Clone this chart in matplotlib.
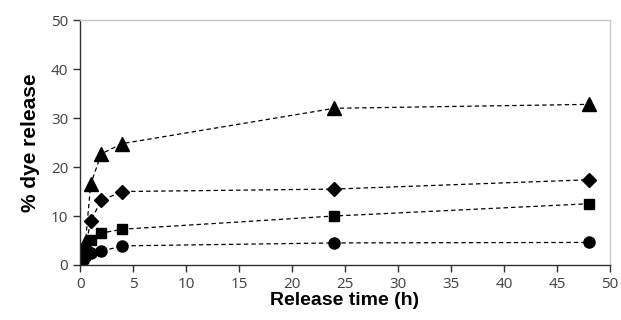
import matplotlib
matplotlib.use("Agg")
import matplotlib.pyplot as plt

# release time points (h)
time_h = [0.25, 0.5, 1, 2, 4, 24, 48]

# % dye release for each formulation
triangle = [2.5, 4.5, 16.5, 22.7, 24.8, 32.0, 32.8]
diamond = [2.0, 3.5, 9.0, 13.2, 15.0, 15.5, 17.4]
square = [1.5, 2.5, 5.0, 6.5, 7.3, 10.0, 12.5]
circle = [1.0, 1.8, 2.5, 2.8, 3.9, 4.5, 4.6]

x_ticks = list(range(0, 51, 5))
y_ticks = list(range(0, 51, 10))

fig = plt.figure(figsize=(6.21, 3.2), dpi=100)
ax = fig.add_axes([0.129, 0.172, 0.853, 0.765])

series = [(triangle, '^', 10), (diamond, 'D', 7.5), (square, 's', 7.5), (circle, 'o', 8)]
for vals, mk, ms in series:
    ax.plot(time_h, vals, linestyle=(0, (3.5, 2.5)), color='black', linewidth=0.9,
            marker=mk, markersize=ms, markerfacecolor='black', markeredgecolor='black')

ax.set_xlim(0, 50)
ax.set_ylim(0, 50)
ax.set_xticks(x_ticks)
ax.set_yticks(y_ticks)

for side in ['top', 'right']:
    ax.spines[side].set_color('#c8c8c8')
    ax.spines[side].set_linewidth(1.0)
for side in ['left', 'bottom']:
    ax.spines[side].set_color('#303030')
    ax.spines[side].set_linewidth(1.0)

ax.tick_params(axis='both', direction='out', length=5, width=1, color='#303030',
               labelsize=11, labelcolor='#404040')
for lbl in ax.get_xticklabels() + ax.get_yticklabels():
    lbl.set_family('Open Sans')

ax.set_xlabel('Release time (h)', fontsize=14, fontweight='bold', family='Liberation Sans', labelpad=0)
ax.set_ylabel('% dye release', fontsize=15, fontweight='bold', family='Liberation Sans', labelpad=8)

fig.savefig('out.png', dpi=100)
